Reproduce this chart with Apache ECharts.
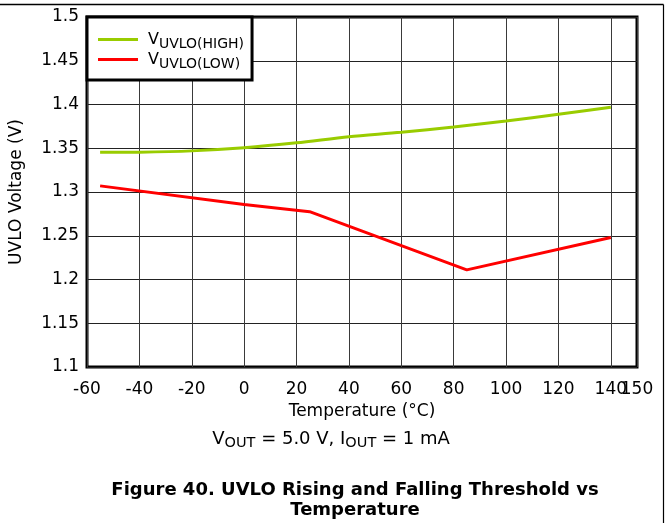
<!DOCTYPE html>
<html>
<head>
<meta charset="utf-8">
<script src="https://cdn.jsdelivr.net/npm/echarts@6/dist/echarts.min.js"></script>
<style>
html,body{margin:0;padding:0;background:#fff;}
#chart{width:669px;height:523px;}
</style>
</head>
<body>
<div id="chart"></div>
<script>
// ---- data ----
var highTemps = [-55, -40, -20, 0, 20, 40, 60, 80, 100, 120, 140];
var highVolts = [1.3453, 1.3455, 1.347, 1.3506, 1.3562, 1.3632, 1.3682, 1.3743, 1.3811, 1.3888, 1.3968];
var lowTemps = [-55, 0, 25, 85, 140];
var lowVolts = [1.307, 1.2857, 1.2775, 1.211, 1.248];
var xTickLabels = [-60, -40, -20, 0, 20, 40, 60, 80, 100, 120, 140];
var xEndLabel = [150];
var seriesNames = ['VUVLO(HIGH)', 'VUVLO(LOW)'];
var legendSubs = ['UVLO(HIGH)', 'UVLO(LOW)'];
var xAxisTitle = 'Temperature (\u00B0C)';
var yAxisTitle = 'UVLO Voltage (V)';
var titleLine1 = 'Figure 40. UVLO Rising and Falling Threshold vs';
var titleLine2 = 'Temperature';

function pairs(xs, ys) { return xs.map(function (x, i) { return [x, ys[i]]; }); }

var FONT = 'DejaVu Sans';
var chart = echarts.init(document.getElementById('chart'), null, {renderer: 'canvas'});
var option = {
  animation: false,
  backgroundColor: '#fff',
  textStyle: {fontFamily: FONT},
  grid: {left: 87, top: 17, width: 550, height: 350, show: true, borderColor: '#000', borderWidth: 3, backgroundColor: 'transparent'},
  xAxis: [{
    type: 'value', min: -60, max: 150, interval: 20, position: 'bottom',
    axisLine: {show: false}, axisTick: {show: false},
    splitLine: {show: true, lineStyle: {color: '#3a3a3a', width: 1}},
    axisLabel: {color: '#000', fontSize: 17, fontFamily: FONT, margin: 14,
      customValues: xTickLabels},
    name: xAxisTitle, nameLocation: 'middle', nameGap: 33,
    nameTextStyle: {color: '#000', fontSize: 17, fontFamily: FONT}
  }, {
    type: 'value', min: -60, max: 150, interval: 20, position: 'bottom', offset: 0,
    axisLine: {show: false}, axisTick: {show: false}, splitLine: {show: false},
    axisLabel: {color: '#000', fontSize: 17, fontFamily: FONT, margin: 14,
      customValues: xEndLabel}
  }],
  yAxis: {
    type: 'value', min: 1.1, max: 1.5, interval: 0.05,
    axisLine: {show: false}, axisTick: {show: false},
    splitLine: {show: true, lineStyle: {color: '#222', width: 1}},
    axisLabel: {color: '#000', fontSize: 17, fontFamily: FONT, margin: 8,
      formatter: function (v) { return String(+v.toFixed(2)); }},
    name: yAxisTitle, nameLocation: 'middle', nameGap: 62,
    nameTextStyle: {color: '#000', fontSize: 17, fontFamily: FONT}
  },
  legend: {
    orient: 'vertical', left: 87, top: 17,
    backgroundColor: '#fff', borderColor: '#000', borderWidth: 3,
    padding: [10.4, 8, 8.4, 11], itemGap: -3.8, itemWidth: 40, itemHeight: 3,
    icon: 'rect',
    data: seriesNames,
    formatter: function (name) {
      var i = seriesNames.indexOf(name);
      return '{v|V}{s|' + legendSubs[i] + '}';
    },
    textStyle: {
      color: '#000', fontFamily: FONT,
      rich: {
        v: {fontSize: 16, fontFamily: FONT, color: '#000', lineHeight: 18, padding: [0, 0, 0, 5]},
        s: {fontSize: 14, fontFamily: FONT, color: '#000', lineHeight: 18, padding: [10, 0, 0, 0]}
      }
    }
  },
  series: [
    {name: seriesNames[0], type: 'line', data: pairs(highTemps, highVolts), smooth: 0.3,
     showSymbol: false, symbol: 'none', lineStyle: {color: '#99cc00', width: 3}, itemStyle: {color: '#99cc00'}, z: 3},
    {name: seriesNames[1], type: 'line', data: pairs(lowTemps, lowVolts),
     showSymbol: false, symbol: 'none', lineStyle: {color: '#ff0000', width: 3}, itemStyle: {color: '#ff0000'}, z: 3}
  ],
  graphic: [
    {type: 'line', shape: {x1: 0, y1: 4.5, x2: 663.5, y2: 4.5}, style: {stroke: '#000', lineWidth: 1.5}, silent: true},
    {type: 'line', shape: {x1: 663.5, y1: 4.5, x2: 663.5, y2: 523}, style: {stroke: '#000', lineWidth: 1.2}, silent: true},
    {type: 'text', silent: true,
     style: {
       x: 331, y: 439, textAlign: 'center', textVerticalAlign: 'middle',
       text: '{v|V}{s|OUT}{v| = 5.0 V, I}{s|OUT}{v| = 1 mA}',
       rich: {
         v: {fontSize: 18, fontFamily: FONT, fill: '#000', lineHeight: 20},
         s: {fontSize: 14.5, fontFamily: FONT, fill: '#000', lineHeight: 20, padding: [9, 0, 0, 0]}
       }
     }},
    {type: 'text', silent: true,
     style: {x: 355, y: 490, textAlign: 'center', textVerticalAlign: 'middle',
       text: titleLine1, font: 'bold 18px "DejaVu Sans"', fill: '#000'}},
    {type: 'text', silent: true,
     style: {x: 355, y: 510, textAlign: 'center', textVerticalAlign: 'middle',
       text: titleLine2, font: 'bold 18px "DejaVu Sans"', fill: '#000'}}
  ]
};
chart.setOption(option);
</script>
</body>
</html>
